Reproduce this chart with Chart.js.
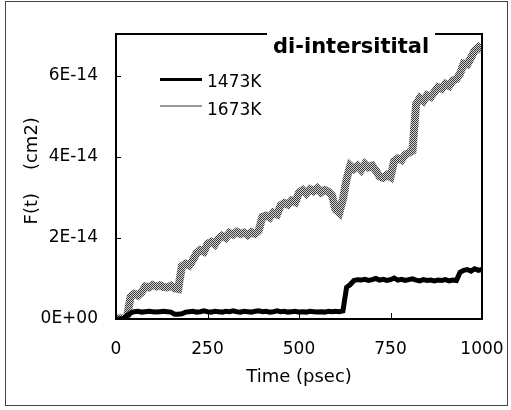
<!DOCTYPE html>
<html>
<head>
<meta charset="utf-8">
<script src="https://cdn.jsdelivr.net/npm/chart.js@4/dist/chart.umd.min.js"></script>
<style>
html,body{margin:0;padding:0;background:#fff;}
canvas{display:block;}
</style>
</head>
<body>
<canvas id="c" width="511" height="410"></canvas>
<script>
// ---- data (values in units of 1E-14 cm2) ----
const times = [0,10,20,30,40,50,60,70,80,90,100,110,120,130,140,150,160,170,180,190,200,210,220,230,240,250,260,270,280,290,300,310,320,330,340,350,360,370,380,390,400,410,420,430,440,450,460,470,480,490,500,510,520,530,540,550,560,570,580,590,600,610,620,630,640,650,660,670,680,690,700,710,720,730,740,750,760,770,780,790,800,810,820,830,840,850,860,870,880,890,900,910,920,930,940,950,960,970,980,990,1000];
const f1673 = [0.00,0.02,0.01,0.05,0.55,0.62,0.58,0.66,0.80,0.78,0.84,0.80,0.83,0.79,0.78,0.82,0.76,0.74,1.30,1.36,1.32,1.45,1.62,1.70,1.66,1.85,1.90,1.84,1.98,2.05,2.00,2.12,2.08,2.15,2.10,2.13,2.07,2.14,2.10,2.18,2.52,2.55,2.50,2.62,2.58,2.80,2.86,2.82,2.92,2.88,3.12,3.18,3.10,3.20,3.15,3.22,3.12,3.18,3.14,3.05,2.70,2.62,2.95,3.45,3.78,3.70,3.78,3.68,3.82,3.74,3.78,3.66,3.52,3.48,3.55,3.50,3.90,3.96,3.92,4.05,4.10,4.15,5.30,5.45,5.38,5.52,5.48,5.60,5.72,5.68,5.80,5.75,5.88,5.92,6.05,6.30,6.28,6.45,6.62,6.70,6.62];
const f1473 = [0.00,0.00,0.01,0.08,0.15,0.18,0.19,0.17,0.18,0.19,0.18,0.17,0.18,0.19,0.18,0.17,0.12,0.12,0.13,0.17,0.18,0.19,0.17,0.18,0.20,0.18,0.17,0.19,0.18,0.17,0.19,0.18,0.20,0.18,0.17,0.19,0.18,0.17,0.19,0.20,0.18,0.19,0.17,0.18,0.20,0.18,0.19,0.17,0.18,0.19,0.17,0.18,0.17,0.19,0.18,0.17,0.18,0.17,0.19,0.18,0.19,0.18,0.20,0.78,0.85,0.95,0.97,0.96,0.98,0.95,0.97,1.00,0.96,0.98,0.95,0.97,1.01,0.96,0.98,0.95,0.97,0.99,0.96,0.94,0.97,0.95,0.96,0.94,0.96,0.95,0.97,0.94,0.96,0.95,1.15,1.20,1.22,1.18,1.24,1.20,1.22];
const seriesNames = ['1473K','1673K'];
const xTicks = [0,250,500,750,1000];
const yTicks = [0,2,4,6];
const chartTitle = 'di-intersitital';
const xTitle = 'Time (psec)';
const yTitle = '  F(t)    (cm2)';

// ---- gray dithered pattern for the 1673K band ----
function makePattern(){
  const p = document.createElement('canvas');
  p.width = 2; p.height = 2;
  const g = p.getContext('2d');
  g.fillStyle = '#d2d2d2'; g.fillRect(0,0,2,2);
  g.fillStyle = '#3c3c3c'; g.fillRect(0,0,1,1); g.fillRect(1,1,1,1);
  return g.createPattern(p,'repeat');
}
const ctx0 = document.getElementById('c').getContext('2d');
const grayPat = makePattern();

const toPts = arr => times.map((t,i)=>({x:t,y:arr[i]}));

const decor = {
  id:'decor',
  beforeDraw(chart){
    const c = chart.ctx;
    c.save();
    c.fillStyle='#fff'; c.fillRect(0,0,chart.width,chart.height);
    c.strokeStyle='#444'; c.lineWidth=1;
    c.strokeRect(5.5,1.5,502,404);
    c.restore();
  },
  afterDraw(chart){
    const c = chart.ctx, a = chart.chartArea;
    const xs = chart.scales.x, ys = chart.scales.y;
    c.save();
    // plot frame
    c.strokeStyle='#000'; c.lineWidth=2;
    c.strokeRect(a.left, a.top, a.right-a.left, a.bottom-a.top);
    // inward ticks
    c.lineWidth=1;
    c.beginPath();
    yTicks.forEach(v=>{ if(v===0) return; const y=Math.round(ys.getPixelForValue(v))+0.5; c.moveTo(a.left,y); c.lineTo(a.left+5,y);});
    xTicks.forEach(v=>{ if(v===0||v===1000) return; const x=Math.round(xs.getPixelForValue(v))+0.5; c.moveTo(x,a.bottom); c.lineTo(x,a.bottom-6);});
    c.stroke();
    // title breaking the top border
    c.font='bold 21px "DejaVu Sans"';
    const w = c.measureText(chartTitle).width;
    const tx = 273;
    c.fillStyle='#fff';
    c.fillRect(tx-6, a.top-3, w+12, 6);
    c.fillStyle='#000';
    c.textBaseline='alphabetic';
    c.fillText(chartTitle, tx, 53);
    // legend
    const lx0=160, lx1=202;
    c.lineWidth=3; c.strokeStyle='#000';
    c.beginPath(); c.moveTo(lx0,79.5); c.lineTo(lx1,79.5); c.stroke();
    c.lineWidth=2; c.strokeStyle='#999';
    c.beginPath(); c.moveTo(lx0,106); c.lineTo(lx1,106); c.stroke();
    c.font='17px "DejaVu Sans"';
    c.fillStyle='#000';
    c.fillText(seriesNames[0], 207, 87);
    c.fillText(seriesNames[1], 207, 114.5);
    c.restore();
  }
};

new Chart(ctx0, {
  type:'line',
  data:{
    datasets:[
      {label:seriesNames[0], data:toPts(f1473), borderColor:'#000', borderWidth:5, pointRadius:0, tension:0, fill:false},
      {label:seriesNames[1], data:toPts(f1673), borderColor:grayPat, borderWidth:8, pointRadius:0, tension:0, fill:false}
    ]
  },
  options:{
    responsive:false, animation:false, devicePixelRatio:1,
    layout:{padding:{left:0,right:29,top:34,bottom:0}},
    plugins:{legend:{display:false}, tooltip:{enabled:false}},
    scales:{
      x:{
        type:'linear', min:0, max:1000,
        afterBuildTicks:s=>{ s.ticks = xTicks.map(v=>({value:v})); },
        afterFit:s=>{ s.height = 91; s.paddingRight = 0; s.paddingLeft = 0; },
        grid:{display:false, drawTicks:false},
        border:{display:false},
        ticks:{color:'#000', font:{family:'DejaVu Sans', size:17}, padding:20, maxRotation:0, autoSkip:false,
          callback:v=> String(v)},
        title:{display:true, text:xTitle, color:'#000', font:{family:'DejaVu Sans', size:18}, padding:{top:0,bottom:22}}
      },
      y:{
        type:'linear', min:0, max:7.03,
        afterBuildTicks:s=>{ s.ticks = yTicks.map(v=>({value:v})); },
        afterFit:s=>{ s.width = 116; },
        grid:{display:false, drawTicks:false},
        border:{display:false},
        ticks:{color:'#000', font:{family:'DejaVu Sans', size:17}, padding:18, autoSkip:false,
          callback:v=> v===0 ? '0E+00' : v+'E-14'},
        title:{display:true, text:yTitle, color:'#000', font:{family:'DejaVu Sans', size:18}, padding:{top:22,bottom:0}}
      }
    }
  },
  plugins:[decor]
});
</script>
</body>
</html>
